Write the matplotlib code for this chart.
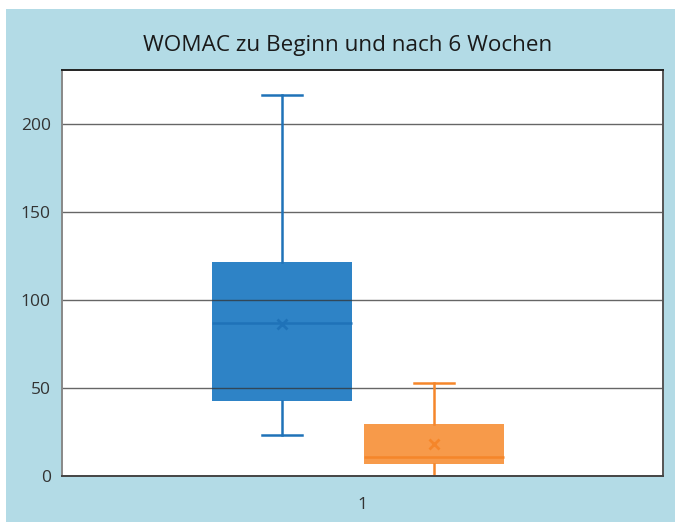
import matplotlib
matplotlib.use("Agg")
import matplotlib.pyplot as plt
from matplotlib.patches import Rectangle

title = "WOMAC zu Beginn und nach 6 Wochen"
groups = ["Beginn", "6 Wochen"]
whislo = [23.3, 0.0]
q1 = [42.6, 6.8]
med = [86.9, 10.8]
q3 = [121.6, 29.5]
whishi = [216.5, 52.8]
means = [86.6, 18.2]
x_ticklabels = ["1"]
y_ticks = [0, 50, 100, 150, 200]

fill_colors = ["#2e83c6", "#f79a4a"]
line_colors = ["#1f72b8", "#f5862a"]
bg = "#b3dbe6"

fig = plt.figure(figsize=(6.75, 5.22), dpi=100, facecolor="white")
fig.patches.append(Rectangle((6/675, 0), 1, (522-9)/522, transform=fig.transFigure,
                             facecolor=bg, edgecolor="none", zorder=-10))
ax = fig.add_axes([62/675, 46/522, (663-62)/675, (476-70)/522])
ax.set_facecolor("white")

stats = []
for i in range(len(groups)):
    stats.append(dict(label=groups[i], whislo=whislo[i], q1=q1[i], med=med[i],
                      q3=q3[i], whishi=whishi[i], mean=means[i], fliers=[]))

positions = [0.866, 1.119]
for i, s in enumerate(stats):
    bp = ax.bxp([s], positions=[positions[i]], widths=0.232, patch_artist=True,
                showmeans=True, capwidths=0.068,
                boxprops=dict(facecolor=fill_colors[i], edgecolor=fill_colors[i], linewidth=0),
                medianprops=dict(color=line_colors[i], linewidth=1.8),
                whiskerprops=dict(color=line_colors[i], linewidth=1.8),
                capprops=dict(color=line_colors[i], linewidth=1.8),
                meanprops=dict(marker="x", markeredgecolor=line_colors[i], markersize=7,
                               markeredgewidth=2),
                manage_ticks=False, zorder=3)
    for k in ("medians", "whiskers", "caps", "means"):
        for art in bp[k]:
            art.set_zorder(4)

ax.set_xlim(0.5, 1.5)
ax.set_ylim(0, 230.7)
ax.set_yticks(y_ticks)
ax.set_xticks([1])
ax.set_xticklabels(x_ticklabels)
ax.yaxis.grid(True, color="#333333", linewidth=1.0, alpha=0.75)
ax.yaxis.set_zorder(3.5)
ax.tick_params(axis="both", length=0, labelsize=12.5, labelcolor="#333333", pad=8)
for lab in ax.get_xticklabels() + ax.get_yticklabels():
    lab.set_fontfamily("Open Sans")
ax.tick_params(axis="x", pad=15)
ax.spines["left"].set_color("#888888")
ax.spines["bottom"].set_color("#444444")
ax.spines["top"].set_color("#222222")
ax.spines["right"].set_color("#555555")
for sp in ax.spines.values():
    sp.set_linewidth(1.4)
    sp.set_zorder(5)

fig.text(348/675, 1 - 46/522, title, ha="center", va="center", fontsize=16.2,
         color="#1a1a1a", family="Open Sans", fontweight="medium")

fig.savefig("out.png", dpi=100, facecolor=fig.get_facecolor())
